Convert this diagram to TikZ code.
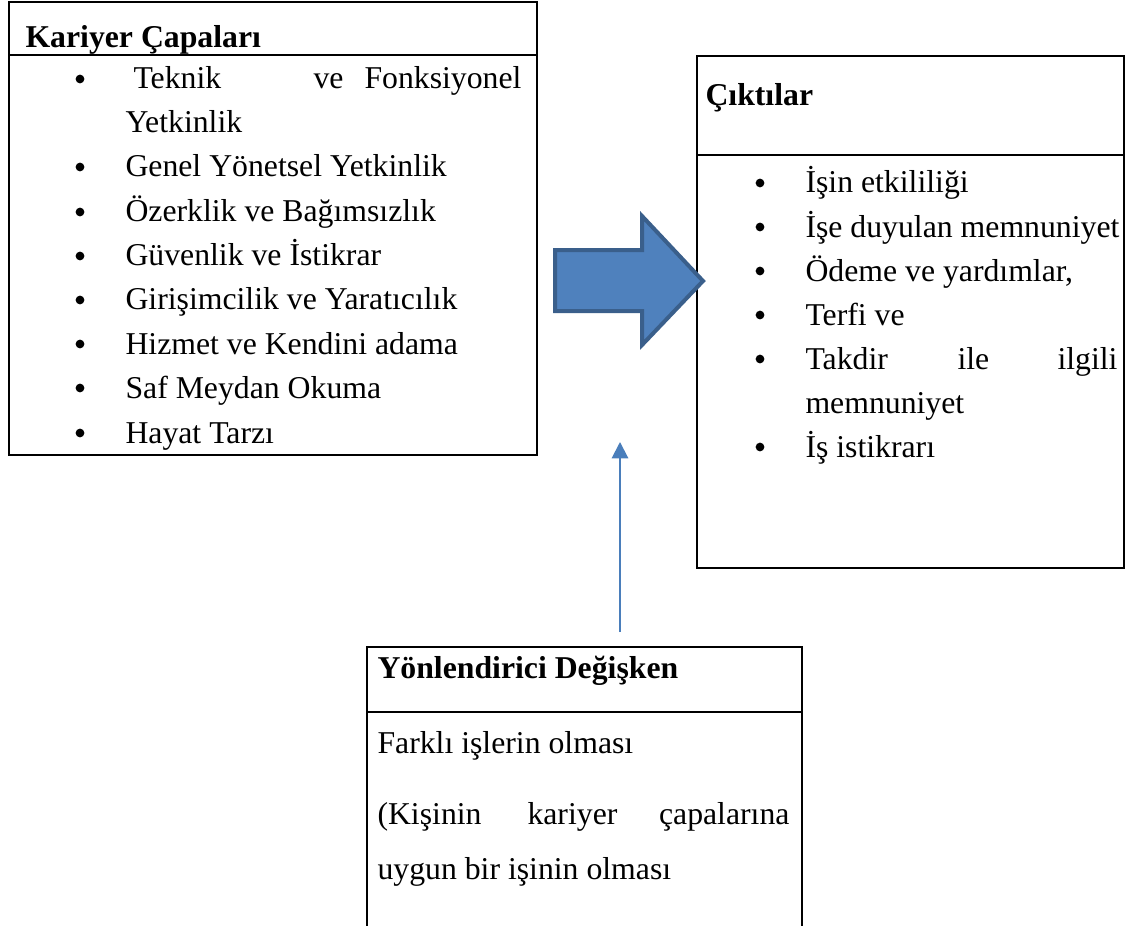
\documentclass[tikz,border=0pt]{standalone}
\usepackage{fontspec}
\setmainfont{Liberation Serif}
\usetikzlibrary{arrows.meta}
\definecolor{arrowfill}{HTML}{4F81BD}
\definecolor{arrowedge}{HTML}{3A5F8B}
\definecolor{linkblue}{HTML}{4A7EBB}
\begin{document}
\begin{tikzpicture}[x=0.4pt,y=-0.4pt,
  boxline/.style={draw=black,line width=0.8pt},
  txt/.style={anchor=base west,inner sep=0pt,font=\fontsize{12.7pt}{14pt}\selectfont},
  txtr/.style={anchor=base east,inner sep=0pt,font=\fontsize{12.7pt}{14pt}\selectfont},
  ttl/.style={anchor=base west,inner sep=0pt,font=\fontsize{12.7pt}{14pt}\selectfont\bfseries},
  bul/.style={circle,fill=black,inner sep=0pt,minimum size=3.5pt},
  blockarrow/.style={fill=arrowfill,draw=arrowedge,line width=1.6pt,line join=miter},
  link/.style={draw=linkblue,line width=0.8pt,-{Triangle[length=6.5pt,width=6.5pt]}}]
\useasboundingbox (0,0) rectangle (1127,926);
\clip (0,0) rectangle (1127,926);

% ---------- Box 1: Kariyer Capalari ----------
\draw[boxline] (9,2) rectangle (537,455);
\draw[boxline] (9,55) -- (537,55);
\node[ttl] (t1) at (25,48) {Kariyer Çapaları};
\node[bul] (b11) at (80,79) {};
\node[txt] (a11) at (133,89) {Teknik};
\node[txt] (a12) at (313,89) {ve};
\node[txtr] (a13) at (522,89) {Fonksiyonel};
\node[txt] (a14) at (125,133) {Yetkinlik};
\node[bul] (b12) at (80,167) {};
\node[txt] (a2) at (125,177) {Genel Yönetsel Yetkinlik};
\node[bul] (b13) at (80,212) {};
\node[txt] (a3) at (125,222) {Özerklik ve Bağımsızlık};
\node[bul] (b14) at (80,256) {};
\node[txt] (a4) at (125,266) {Güvenlik ve İstikrar};
\node[bul] (b15) at (80,300) {};
\node[txt] (a5) at (125,310) {Girişimcilik ve Yaratıcılık};
\node[bul] (b16) at (80,344) {};
\node[txt] (a6) at (125,354) {Hizmet ve Kendini adama};
\node[bul] (b17) at (80,388) {};
\node[txt] (a7) at (125,398) {Saf Meydan Okuma};
\node[bul] (b18) at (80,433) {};
\node[txt] (a8) at (125,443) {Hayat Tarzı};

% ---------- Box 2: Ciktilar ----------
\draw[boxline] (697,56) rectangle (1124,568);
\draw[boxline] (697,155) -- (1124,155);
\node[ttl] (t2) at (705,106) {Çıktılar};
\node[bul] (b21) at (760,183) {};
\node[txt] (c1) at (805,193) {İşin etkililiği};
\node[bul] (b22) at (760,227) {};
\node[txt] (c2) at (805,237) {İşe duyulan memnuniyet};
\node[bul] (b23) at (760,271) {};
\node[txt] (c3) at (805,281) {Ödeme ve yardımlar,};
\node[bul] (b24) at (760,315) {};
\node[txt] (c4) at (805,325) {Terfi ve};
\node[bul] (b25) at (760,359) {};
\node[txt] (c51) at (805,369) {Takdir};
\node[txt] (c52) at (957,369) {ile};
\node[txtr] (c53) at (1118,369) {ilgili};
\node[txt] (c54) at (805,413) {memnuniyet};
\node[bul] (b26) at (760,447) {};
\node[txt] (c6) at (805,457) {İş istikrarı};

% ---------- Box 3: Yonlendirici Degisken ----------
\draw[boxline] (367,940) -- (367,647) -- (802,647) -- (802,940);
\draw[boxline] (367,712) -- (802,712);
\node[ttl] (t3) at (377,678) {Yönlendirici Değişken};
\node[txt] (d1) at (377,753) {Farklı işlerin olması};
\node[txt] (d21) at (377,824) {(Kişinin};
\node[txt] (d22) at (527,824) {kariyer};
\node[txtr] (d23) at (790,824) {çapalarına};
\node[txt] (d3) at (377,879) {uygun bir işinin olması};

% ---------- Block arrow ----------
\draw[blockarrow] (555,250) -- (642,250) -- (642,216) -- (703,281)
  -- (642,345) -- (642,311) -- (555,311) -- cycle;

% ---------- Thin arrow ----------
\coordinate (linkstart) at (620,632);
\coordinate (linkend) at (620,442);
\draw[link] (linkstart) -- (linkend);
\end{tikzpicture}
\end{document}
